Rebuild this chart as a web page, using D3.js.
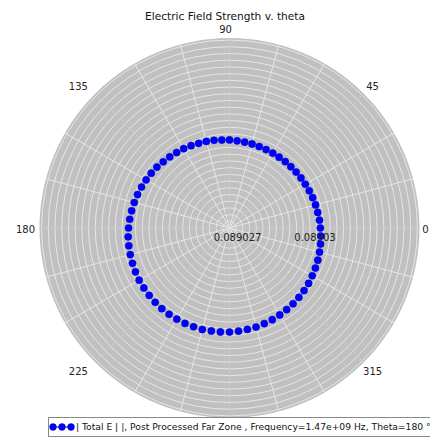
<!DOCTYPE html>
<html><head><meta charset="utf-8">
<script src="https://cdn.jsdelivr.net/npm/d3@7/dist/d3.min.js"></script>
<style>html,body{margin:0;padding:0;background:#fff;}svg{display:block;font-family:"DejaVu Sans",sans-serif;}</style>
</head><body>
<svg id="chart" width="430" height="438"></svg>
<script>
// ---- data ----
const thetaDeg = [0,5,10,15,20,25,30,35,40,45,50,55,60,65,70,75,80,85,90,95,100,105,110,115,120,125,130,135,140,145,150,155,160,165,170,175,180,185,190,195,200,205,210,215,220,225,230,235,240,245,250,255,260,265,270,275,280,285,290,295,300,305,310,315,320,325,330,335,340,345,350,355];
const eField = [0.08903052,0.08903050,0.08903047,0.08903045,0.08903043,0.08903041,0.08903039,0.08903038,0.08903037,0.08903036,0.08903036,0.08903035,0.08903035,0.08903035,0.08903036,0.08903037,0.08903038,0.08903039,0.08903041,0.08903042,0.08903045,0.08903047,0.08903049,0.08903052,0.08903055,0.08903057,0.08903060,0.08903063,0.08903067,0.08903070,0.08903073,0.08903076,0.08903079,0.08903082,0.08903085,0.08903088,0.08903091,0.08903094,0.08903096,0.08903098,0.08903100,0.08903102,0.08903104,0.08903105,0.08903106,0.08903107,0.08903108,0.08903108,0.08903108,0.08903108,0.08903107,0.08903107,0.08903105,0.08903104,0.08903103,0.08903101,0.08903099,0.08903097,0.08903094,0.08903092,0.08903089,0.08903086,0.08903083,0.08903080,0.08903077,0.08903074,0.08903070,0.08903067,0.08903064,0.08903061,0.08903058,0.08903055];
const thetaTickLabels = ["0","45","90","135","180","225","315"];
const thetaTickAngles = [0,45,90,135,180,225,315];
const rTickValues = [0.089027, 0.08903];
const rTickLabels = ["0.089027", "0.08903"];
const rMin = 0.089027, rMax = 0.08903436;
const titleText = "Electric Field Strength v. theta";
const legendText = "| Total E | |, Post Processed Far Zone , Frequency=1.47e+09 Hz, Theta=180 \u00b0";

// ---- layout ----
const svg = d3.select("#chart");
const cx = 229.5, cy = 228, R = 190;
const r = d3.scaleLinear().domain([rMin, rMax]).range([0, R]);
const a = d3.scaleLinear().domain([0, 360]).range([0, 2*Math.PI]);
const px = (deg, rad) => cx + rad*Math.cos(a(deg));
const py = (deg, rad) => cy - rad*Math.sin(a(deg));

const g = svg.append("g");
g.append("circle").attr("cx", cx).attr("cy", cy).attr("r", R).attr("fill", "#c0c0c0");

// rings
const ringVals = d3.range(1, 29).map(k => rMin + k*2.6e-7).filter(v => r(v) < R - 1);
g.selectAll("circle.ring").data(ringVals).join("circle")
  .attr("class","ring").attr("cx", cx).attr("cy", cy).attr("r", d => r(d))
  .attr("fill","none").attr("stroke","#e6e6e6").attr("stroke-width",1);

// radial lines
const spokes = d3.range(0, 360, 15);
g.selectAll("line.spoke").data(spokes).join("line")
  .attr("class","spoke")
  .attr("x1", cx).attr("y1", cy)
  .attr("x2", d => px(d, R)).attr("y2", d => py(d, R))
  .attr("stroke", d => d % 45 === 0 ? "#cbcbcb" : "#e6e6e6")
  .attr("stroke-width", d => d % 45 === 0 ? 0.8 : 1);

// theta labels
g.selectAll("text.tl").data(thetaTickAngles).join("text")
  .attr("class","tl")
  .attr("x", d => 225.5 + (200 + 8*Math.abs(Math.sin(2*a(d))))*Math.cos(a(d)))
  .attr("y", d => 229 - (200 + 2*Math.abs(Math.sin(2*a(d))))*Math.sin(a(d)))
  .attr("dy","0.35em").attr("text-anchor","middle")
  .attr("font-size","10px").attr("fill","#222")
  .text((d,i) => thetaTickLabels[i]);

// data points
g.selectAll("circle.pt").data(thetaDeg).join("circle")
  .attr("class","pt")
  .attr("cx", (d,i) => px(d, r(eField[i])))
  .attr("cy", (d,i) => py(d, r(eField[i])))
  .attr("r", 3.6).attr("fill","#0000ff").attr("stroke","#0000c8").attr("stroke-width",0.5);

// r labels
g.selectAll("text.rl").data(rTickValues).join("text")
  .attr("class","rl")
  .attr("x", d => cx + 8 + r(d)).attr("y", cy + 9.5)
  .attr("dy","0.35em").attr("text-anchor","middle")
  .attr("font-size","10px").attr("fill","#222")
  .text((d,i) => rTickLabels[i]);

// title
svg.append("text").attr("x", 225).attr("y", 16.5).attr("dy","0.35em")
  .attr("text-anchor","middle").attr("font-size","10.6px").attr("fill","#111").text(titleText);

// legend
const lg = svg.append("g");
lg.append("rect").attr("x", 48.5).attr("y", 417.5).attr("width", 400).attr("height", 19)
  .attr("fill","#fff").attr("stroke","#888").attr("stroke-width",1);
const legX = d3.scaleLinear().domain([0, 2]).range([53, 71]);
lg.append("line").attr("x1", 50).attr("x2", 74).attr("y1", 427).attr("y2", 427)
  .attr("stroke","#0000ff").attr("stroke-width",1);
lg.selectAll("circle").data([0,1,2]).join("circle")
  .attr("cx", d => legX(d)).attr("cy", 427).attr("r", 3.4)
  .attr("fill","#0000ff").attr("stroke","#0000c8").attr("stroke-width",0.5);
lg.append("text").attr("x", 76).attr("y", 427).attr("dy","0.35em")
  .attr("font-size","9.2px").attr("fill","#111").text(legendText);
</script>
</body></html>
